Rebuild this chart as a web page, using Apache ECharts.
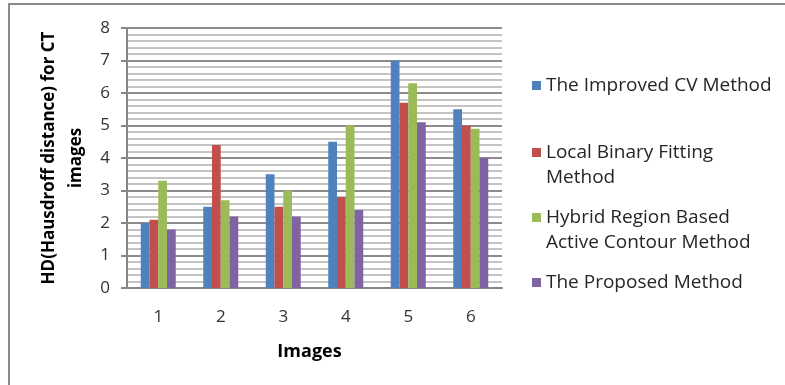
<!DOCTYPE html>
<html>
<head>
<meta charset="utf-8">
<script src="https://cdn.jsdelivr.net/npm/echarts@6/dist/echarts.min.js"></script>
<style>
  html, body { margin: 0; padding: 0; background: #fff; }
  #chart { width: 785px; height: 385px; }
</style>
</head>
<body>
<div id="chart"></div>
<script>
// Hausdorff distance per CT image for four segmentation methods
const categories = ['1', '2', '3', '4', '5', '6'];
const improvedCV = [2.0, 2.5, 3.5, 4.5, 7.0, 5.5];
const localBinary = [2.1, 4.4, 2.5, 2.8, 5.7, 5.0];
const hybridRegion = [3.3, 2.7, 3.0, 5.0, 6.3, 4.9];
const proposed = [1.8, 2.2, 2.2, 2.4, 5.1, 4.0];

const seriesNames = [
  'The Improved CV Method',
  'Local Binary Fitting Method',
  'Hybrid Region Based Active Contour Method',
  'The Proposed Method'
];
const legendText = {
  'The Improved CV Method': 'The Improved CV Method',
  'Local Binary Fitting Method': 'Local Binary Fitting\nMethod',
  'Hybrid Region Based Active Contour Method': 'Hybrid Region Based\nActive Contour Method',
  'The Proposed Method': 'The Proposed Method'
};
const colors = ['#4F81BD', '#C0504D', '#9BBB59', '#8064A2'];
const values = [improvedCV, localBinary, hybridRegion, proposed];

const FONT = 'Open Sans';
const LEGEND_SIZE = 19;
const LEGEND_LH = 25;
const SWATCH = 9;
const legendTops = [68, 135, 200, 265];

// For wrapped entries the swatch sits beside the first text line: the icon box
// is taller than the swatch, with the swatch drawn at its top edge.
const tallIconHeight = SWATCH + LEGEND_LH;
const tallIcon = 'path://M0,0L' + SWATCH + ',0L' + SWATCH + ',' + SWATCH + 'L0,' + SWATCH +
  'ZM0,' + tallIconHeight + 'L0,' + tallIconHeight;

const chart = echarts.init(document.getElementById('chart'), null, { renderer: 'canvas' });

const legends = seriesNames.map((name, i) => {
  const twoLine = legendText[name].indexOf('\n') >= 0;
  return {
    data: [name],
    left: 527,
    top: legendTops[i],
    orient: 'vertical',
    itemWidth: SWATCH,
    itemHeight: twoLine ? tallIconHeight : SWATCH,
    itemGap: 0,
    selectedMode: false,
    icon: twoLine ? tallIcon : 'rect',
    formatter: n => legendText[n],
    textStyle: {
      fontFamily: FONT,
      fontSize: LEGEND_SIZE,
      lineHeight: LEGEND_LH,
      color: '#262626'
    }
  };
});

chart.setOption({
  animation: false,
  color: colors,
  graphic: [{
    type: 'rect',
    shape: { x: 9, y: 4, width: 820, height: 420 },
    style: { fill: 'none', stroke: '#8a8a8a', lineWidth: 2 },
    silent: true
  }],
  legend: legends,
  grid: { left: 127, right: 283, top: 28, bottom: 97 },
  xAxis: {
    type: 'category',
    data: categories,
    name: 'Images',
    nameLocation: 'middle',
    nameGap: 55,
    nameTextStyle: { fontFamily: FONT, fontSize: 18, fontWeight: 'bold', color: '#000', padding: [0, 10, 0, 0] },
    axisLine: { lineStyle: { color: '#868686', width: 2 } },
    axisTick: { show: false },
    axisLabel: { fontFamily: FONT, fontSize: 17, color: '#333', margin: 21 }
  },
  yAxis: {
    type: 'value',
    min: 0,
    max: 8,
    interval: 1,
    name: 'HD(Hausdroff distance) for CT\nimages',
    nameLocation: 'middle',
    nameRotate: 90,
    nameGap: 37,
    nameTextStyle: { fontFamily: FONT, fontSize: 17, fontWeight: 'bold', color: '#000', lineHeight: 27, align: 'center' },
    axisLine: { show: true, lineStyle: { color: '#868686', width: 2 } },
    axisTick: { show: true, length: 6, lineStyle: { color: '#868686', width: 2 } },
    axisLabel: { fontFamily: FONT, fontSize: 17, color: '#333', margin: 17 },
    splitLine: { show: true, lineStyle: { color: '#8c8c8c', width: 2 } },
    minorTick: { show: false, splitNumber: 5 },
    minorSplitLine: { show: true, lineStyle: { color: '#c4c4c4', width: 2 } }
  },
  series: seriesNames.map((name, i) => ({
    name: name,
    type: 'bar',
    data: values[i],
    barGap: '0%',
    barCategoryGap: '44%',
    itemStyle: { color: colors[i] }
  }))
});
</script>
</body>
</html>
